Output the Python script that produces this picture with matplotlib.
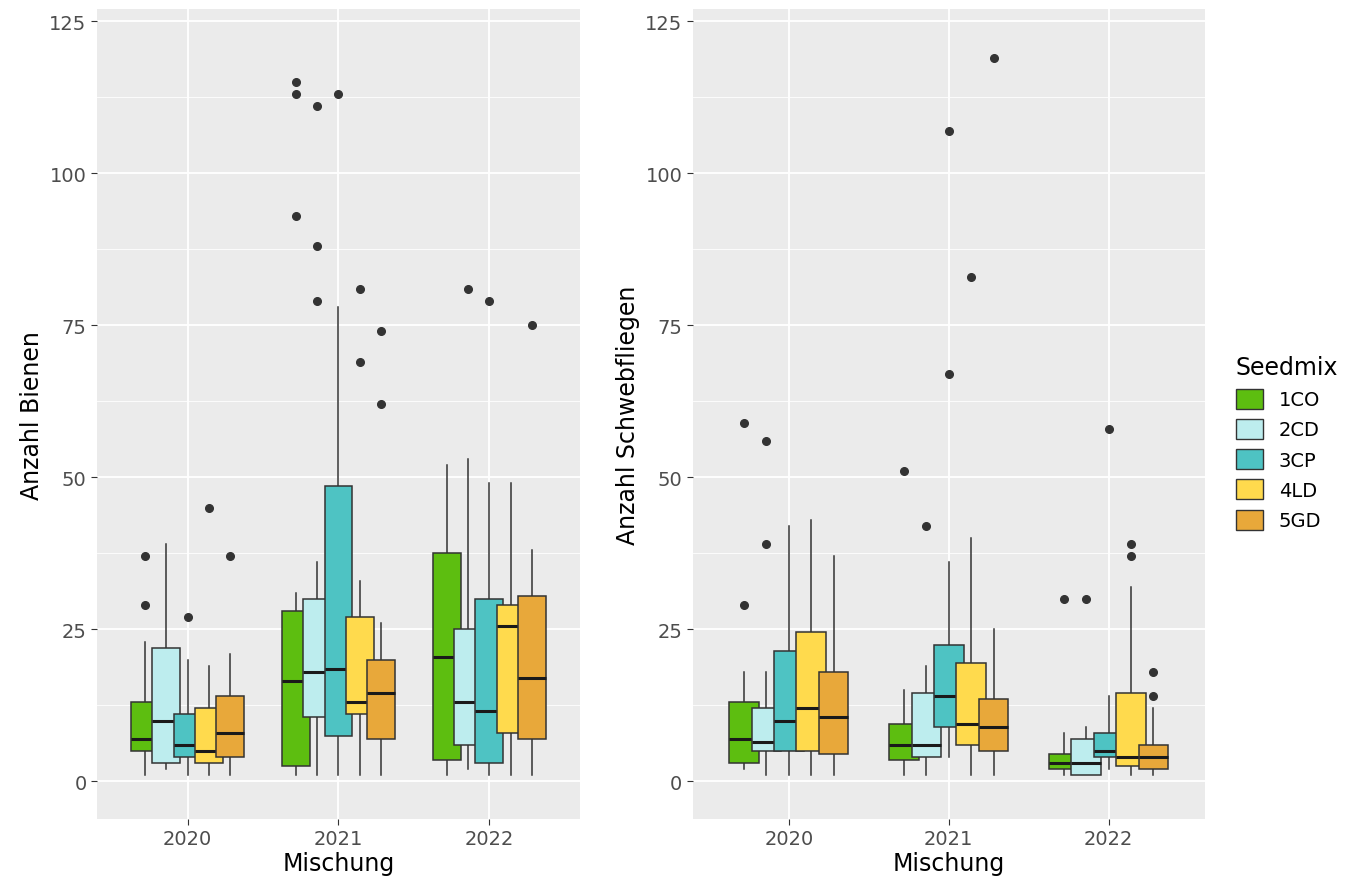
import matplotlib
matplotlib.use("Agg")
import matplotlib.pyplot as plt
from matplotlib.patches import Patch
import numpy as np

years = ["2020", "2021", "2022"]
mixes = ["1CO", "2CD", "3CP", "4LD", "5GD"]
colors = ["#5DBE10", "#BDEDEE", "#4EC3C3", "#FFDA4D", "#E8A83A"]

# (low whisker, q1, median, q3, high whisker, outliers) per year, per mix
bienen = {
    "2020": [(1, 5, 7, 13, 23, [29, 37]), (2, 3, 10, 22, 39, []), (1, 4, 6, 11, 20, [27]),
             (1, 3, 5, 12, 19, [45]), (1, 4, 8, 14, 21, [37])],
    "2021": [(1, 2.5, 16.5, 28, 31, [93, 113, 115]), (1, 10.5, 18, 30, 36, [79, 88, 111]),
             (1, 7.5, 18.5, 48.5, 78, [113]), (1, 11, 13, 27, 33, [69, 81]),
             (1, 7, 14.5, 20, 26, [62, 74])],
    "2022": [(1, 3.5, 20.5, 37.5, 52, []), (2, 6, 13, 25, 53, [81]), (1, 3, 11.5, 30, 49, [79]),
             (1, 8, 25.5, 29, 49, []), (1, 7, 17, 30.5, 38, [75])],
}
schweb = {
    "2020": [(2, 3, 7, 13, 18, [29, 59]), (1, 5, 6.5, 12, 18, [39, 56]), (1, 5, 10, 21.5, 42, []),
             (1, 5, 12, 24.5, 43, []), (1, 4.5, 10.5, 18, 37, [])],
    "2021": [(1, 3.5, 6, 9.5, 15, [51]), (1, 4, 6, 14.5, 19, [42]), (4, 9, 14, 22.5, 36, [67, 107]),
             (1, 6, 9.5, 19.5, 40, [83]), (1, 5, 9, 13.5, 25, [119])],
    "2022": [(1, 2, 3, 4.5, 8, [30]), (1, 1, 3, 7, 9, [30]), (2, 4, 5, 8, 14, [58]),
             (1, 2.5, 4, 14.5, 32, [37, 39]), (1, 2, 4, 6, 12, [14, 18])],
}

fig = plt.figure(figsize=(13.72, 8.87), dpi=100)
ax1 = fig.add_axes([0.0707, 0.0755, 0.352, 0.913])
ax2 = fig.add_axes([0.505, 0.0755, 0.373, 0.913])

offsets = [-0.28, -0.14, 0, 0.14, 0.28]

def draw(ax, data, ylabel):
    ax.set_facecolor("#EBEBEB")
    for yi, y in enumerate(years):
        for mi, s in enumerate(data[y]):
            st = dict(whislo=s[0], q1=s[1], med=s[2], q3=s[3], whishi=s[4], fliers=s[5])
            z = 2 + mi * 0.1
            ax.bxp([st], positions=[yi + 1 + offsets[mi]], widths=0.185, patch_artist=True,
                   showcaps=False,
                   boxprops=dict(facecolor=colors[mi], edgecolor="#333333", linewidth=1.1, zorder=z),
                   medianprops=dict(color="#1a1a1a", linewidth=2.2, zorder=z + 0.05),
                   whiskerprops=dict(color="#333333", linewidth=1.1, zorder=z - 0.01),
                   flierprops=dict(marker="o", markerfacecolor="#333333",
                                   markeredgecolor="#333333", markersize=5.5, zorder=z))
    ax.set_xlim(0.4, 3.6)
    ax.set_ylim(-6.2, 127)
    ax.set_xticks([1, 2, 3])
    ax.set_xticklabels(years)
    ax.set_yticks([0, 25, 50, 75, 100, 125])
    ax.set_yticks([12.5, 37.5, 62.5, 87.5, 112.5], minor=True)
    ax.grid(True, which="major", color="white", linewidth=1.3)
    ax.grid(True, which="minor", axis="y", color="white", linewidth=0.6)
    ax.set_axisbelow(True)
    for sp in ax.spines.values():
        sp.set_visible(False)
    ax.tick_params(axis="both", which="major", colors="#333333", labelsize=14, length=4,
                   labelcolor="#4D4D4D")
    ax.tick_params(axis="both", which="minor", length=0)
    ax.set_xlabel("Mischung", fontsize=17, labelpad=2)
    ax.set_ylabel(ylabel, fontsize=17)

draw(ax1, bienen, "Anzahl Bienen")
draw(ax2, schweb, "Anzahl Schwebfliegen")

handles = [Patch(facecolor=c, edgecolor="#333333", label=m) for c, m in zip(colors, mixes)]
leg = fig.legend(handles=handles, title="Seedmix", loc="center left",
                 bbox_to_anchor=(0.888, 0.5), frameon=False, fontsize=14, title_fontsize=17,
                 handlelength=1.4, handleheight=1.2, labelspacing=0.5)
leg._legend_box.align = "left"

fig.savefig("out.png", dpi=100)
